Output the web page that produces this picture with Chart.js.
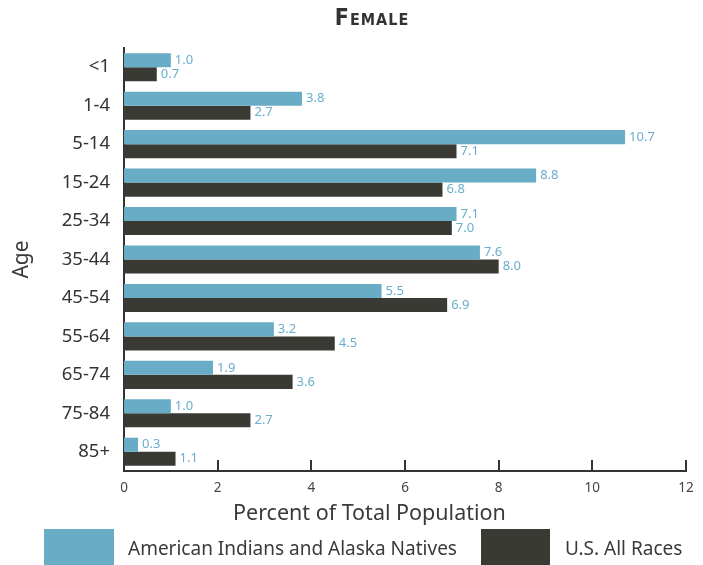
<!DOCTYPE html>
<html>
<head>
<meta charset="utf-8">
<script src="https://cdn.jsdelivr.net/npm/chart.js@4"></script>
<style>
  body { margin: 0; background: #fff; }
  #wrap { position: relative; width: 703px; height: 565px; font-family: "Noto Sans", sans-serif; color: #3a3a3a; }
  #chart { position: absolute; left: 0; top: 0; }
  #title { position: absolute; left: 292px; width: 160px; top: 4px; text-align: center;
           font: bold 23px "DejaVu Sans Condensed", sans-serif; font-variant: small-caps; letter-spacing: 1px; color: #333; }
  #xtitle { position: absolute; left: 233px; top: 497px; font-size: 21.5px; color: #3a3a3a; white-space: nowrap; }
  .sw { position: absolute; top: 529px; height: 36px; }
  .lt { position: absolute; top: 535px; font-size: 19px; color: #3a3a3a; white-space: nowrap; }
</style>
</head>
<body>
<div id="wrap">
  <canvas id="chart" width="703" height="565"></canvas>
  <div id="title">Female</div>
  <div id="xtitle">Percent of Total Population</div>
  <div class="sw" style="left:44px;width:70px;background:#68acc5"></div>
  <div class="lt" style="left:128px">American Indians and Alaska Natives</div>
  <div class="sw" style="left:481px;width:69px;background:#3a3a35"></div>
  <div class="lt" style="left:565px">U.S. All Races</div>
</div>
<script>
// Datos
const ageGroups = ['<1', '1-4', '5-14', '15-24', '25-34', '35-44', '45-54', '55-64', '65-74', '75-84', '85+'];
const aianValues = [1.0, 3.8, 10.7, 8.8, 7.1, 7.6, 5.5, 3.2, 1.9, 1.0, 0.3];
const usAllValues = [0.7, 2.7, 7.1, 6.8, 7.0, 8.0, 6.9, 4.5, 3.6, 2.7, 1.1];
const xTicks = [0, 2, 4, 6, 8, 10, 12];

const BLUE = '#68acc5';
const DARK = '#3a3a35';
const LABEL_BLUE = '#6aaecb';
const FONT = '"Noto Sans", sans-serif';

// etiquetas de valor al final de cada barra
const valueLabels = {
    id: 'valueLabels',
    afterDatasetsDraw(chart) {
        const ctx = chart.ctx;
        ctx.save();
        ctx.font = '13px ' + FONT;
        ctx.fillStyle = LABEL_BLUE;
        ctx.textBaseline = 'middle';
        ctx.textAlign = 'left';
        chart.data.datasets.forEach((ds, i) => {
            chart.getDatasetMeta(i).data.forEach((bar, j) => {
                ctx.fillText(ds.data[j].toFixed(1), bar.x + 4, bar.y);
            });
        });
        ctx.restore();
    }
};

// marcas hacia dentro sobre el eje X
const innerTicks = {
    id: 'innerTicks',
    afterDraw(chart) {
        const ctx = chart.ctx;
        const xs = chart.scales.x;
        const yBottom = chart.chartArea.bottom;
        ctx.save();
        ctx.strokeStyle = '#333';
        ctx.lineWidth = 2;
        xTicks.forEach(v => {
            const px = Math.round(xs.getPixelForValue(v));
            ctx.beginPath();
            ctx.moveTo(px, yBottom);
            ctx.lineTo(px, yBottom - 11);
            ctx.stroke();
        });
        ctx.restore();
    }
};

new Chart(document.getElementById('chart').getContext('2d'), {
    type: 'bar',
    data: {
        labels: ageGroups,
        datasets: [
            { label: 'American Indians and Alaska Natives', data: aianValues, backgroundColor: BLUE },
            { label: 'U.S. All Races', data: usAllValues, backgroundColor: DARK }
        ]
    },
    options: {
        indexAxis: 'y',
        responsive: false,
        animation: false,
        categoryPercentage: 0.73,
        barPercentage: 1.0,
        layout: { padding: { top: 48, right: 17, bottom: 39, left: 0 } },
        plugins: {
            legend: { display: false },
            tooltip: { enabled: false }
        },
        scales: {
            x: {
                min: 0,
                max: 12,
                afterFit(scale) { scale.height = 55; },
                afterBuildTicks(scale) { scale.ticks = xTicks.map(v => ({ value: v })); },
                grid: { display: false, drawTicks: false },
                border: { display: true, color: '#333', width: 2 },
                ticks: { color: '#444', font: { family: FONT, size: 13.5 }, padding: 9 },
                title: { display: false }
            },
            y: {
                afterFit(scale) { scale.width = 124; },
                grid: { display: false, drawTicks: false },
                border: { display: true, color: '#333', width: 2 },
                ticks: { color: '#333', font: { family: FONT, size: 18.5 }, padding: 14 },
                title: {
                    display: true,
                    text: 'Age',
                    color: '#3a3a3a',
                    font: { family: FONT, size: 21 },
                    padding: { top: 9, bottom: 0 }
                }
            }
        }
    },
    plugins: [valueLabels, innerTicks]
});
</script>
</body>
</html>
